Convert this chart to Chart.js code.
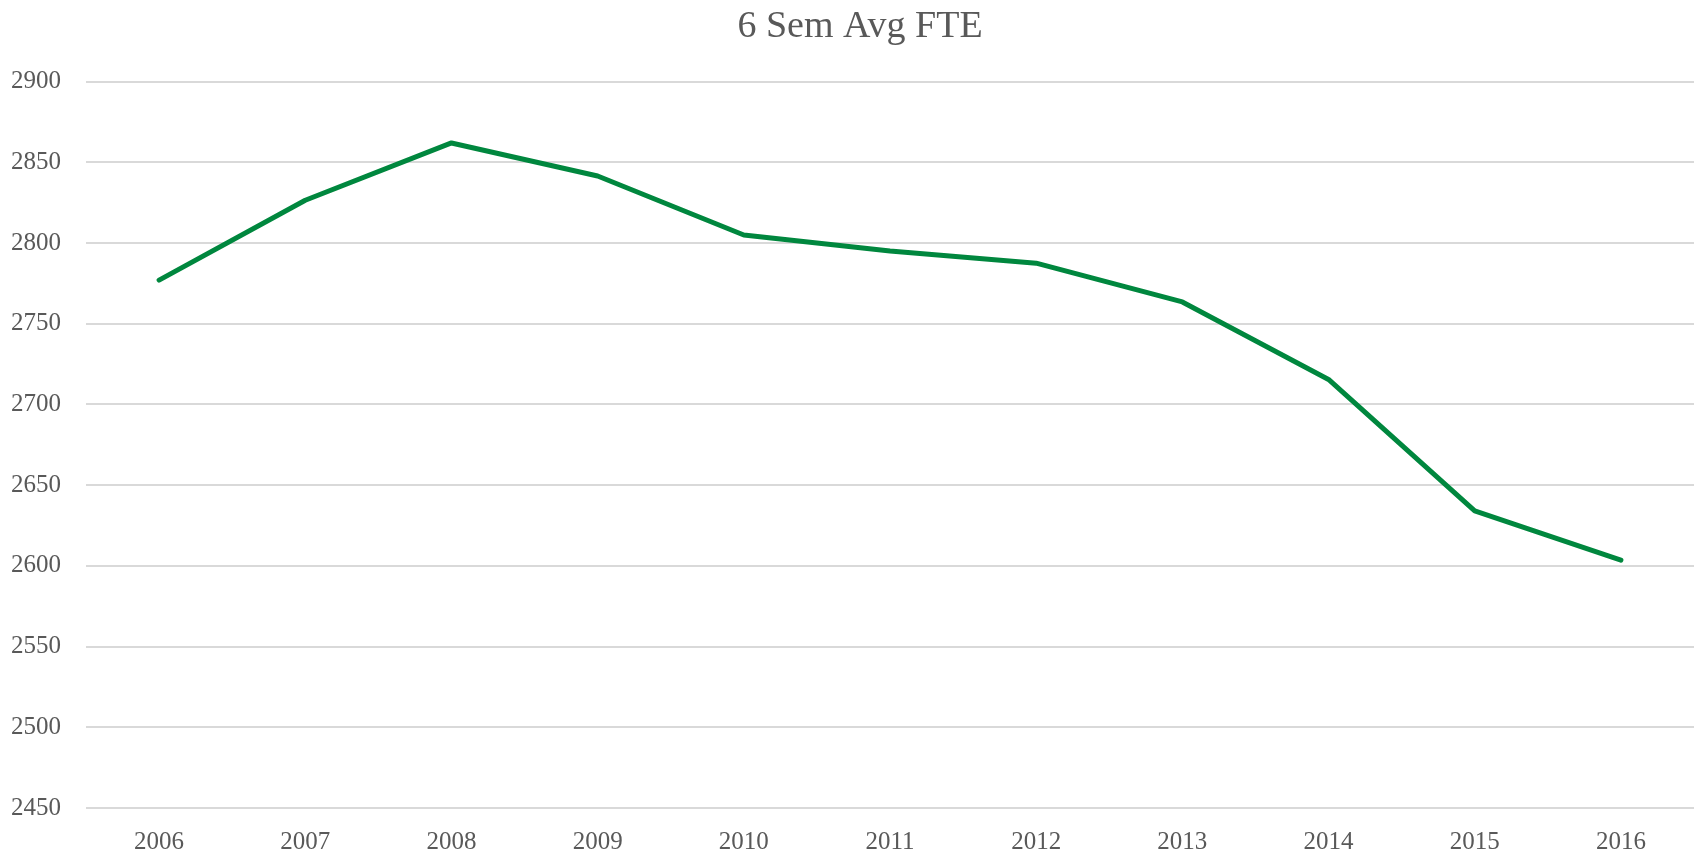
<!DOCTYPE html>
<html>
<head>
<meta charset="utf-8">
<script src="https://cdn.jsdelivr.net/npm/chart.js@4/dist/chart.umd.min.js"></script>
<style>
  html, body { margin: 0; padding: 0; background: #fff; overflow: hidden; }
  #wrap { width: 1698px; height: 854px; }
</style>
</head>
<body>
<div id="wrap"><canvas id="myChart"></canvas></div>
<script>
// data
const years = ['2006', '2007', '2008', '2009', '2010', '2011', '2012', '2013', '2014', '2015', '2016']
const fte = [2777, 2826.5, 2862, 2841.5, 2805, 2795, 2787.5, 2763.5, 2715.5, 2634, 2603.5]
const yMin = 2450
const yMax = 2900
const yStep = 50

const greyText = '#595959'
const fontFam = '"Liberation Serif", "DejaVu Serif", serif'

// setup
const data = {
  labels: years,
  datasets: [{
    label: '6 Sem Avg FTE',
    data: fte,
    borderColor: '#00873E',
    backgroundColor: '#00873E',
    borderWidth: 5,
    pointRadius: 0,
    tension: 0,
    borderCapStyle: 'round',
    borderJoinStyle: 'round'
  }]
}

// nudge the title a bit to the right, like the original
const titleShift = {
  id: 'titleShift',
  afterLayout(chart) {
    const t = chart.titleBlock
    if (t) { t.left += 20; t.right += 20 }
  }
}

// config
const config = {
  type: 'line',
  data,
  plugins: [titleShift],
  options: {
    responsive: true,
    maintainAspectRatio: false,
    animation: false,
    layout: { padding: { left: -14, right: 4, top: 0, bottom: -22 } },
    plugins: {
      legend: { display: false },
      tooltip: { enabled: false },
      title: {
        display: true,
        text: '6 Sem Avg FTE',
        color: greyText,
        font: { family: fontFam, size: 38, weight: 'normal' },
        padding: { top: 4, bottom: 32 }
      }
    },
    scales: {
      x: {
        offset: true,
        grid: { display: false, drawTicks: false },
        border: { display: false },
        ticks: { color: greyText, font: { family: fontFam, size: 25 }, padding: 19 }
      },
      y: {
        min: yMin,
        max: yMax,
        grid: { color: '#d9d9d9', lineWidth: 2, drawTicks: false },
        border: { display: false },
        ticks: {
          stepSize: yStep,
          color: greyText,
          font: { family: fontFam, size: 25 },
          padding: 25,
          callback: function(v){ return String(v) }
        }
      }
    }
  }
}

let myChart = new Chart(document.getElementById('myChart'), config)
</script>
</body>
</html>
